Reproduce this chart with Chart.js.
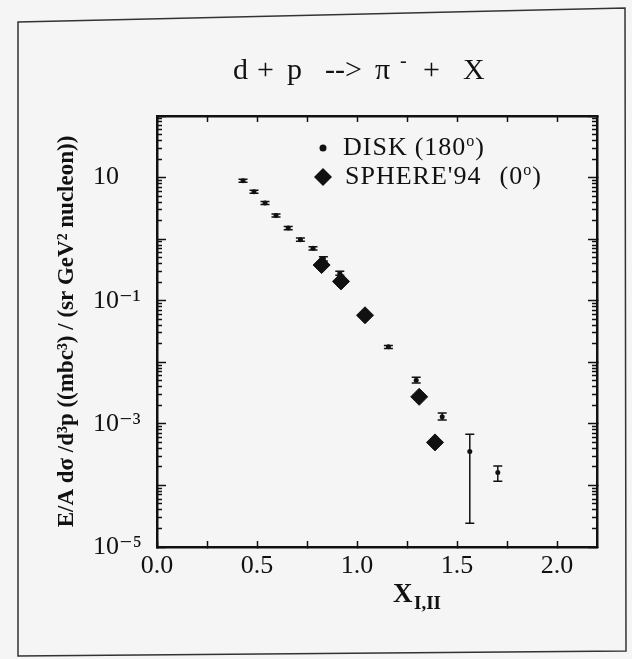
<!DOCTYPE html>
<html>
<head>
<meta charset="utf-8">
<title>d + p --> π- + X</title>
<script src="https://cdn.jsdelivr.net/npm/chart.js@4.4.1/dist/chart.umd.min.js"></script>
<style>
  html, body { margin: 0; padding: 0; background: #f5f5f5; }
  #wrap { width: 632px; height: 659px; }
</style>
</head>
<body>
<div id="wrap"><canvas id="myChart" width="632" height="659"></canvas></div>
<script>
'use strict';

// DISK (180 deg): x, value, error bar low / high
let diskX  = [0.43, 0.485, 0.54, 0.595, 0.656, 0.717, 0.78, 0.832, 0.914, 1.157, 1.296, 1.426, 1.564, 1.704];
let diskY  = [8.9, 5.9, 3.86, 2.42, 1.51, 0.98, 0.71, 0.48, 0.28, 0.0178, 0.0051, 0.00131, 3.55e-4, 1.62e-4];
let diskLo = [8.4, 5.55, 3.65, 2.28, 1.42, 0.92, 0.665, 0.44, 0.26, 0.0168, 0.0046, 0.00115, 2.44e-5, 1.17e-4];
let diskHi = [9.4, 6.25, 4.08, 2.56, 1.6, 1.04, 0.755, 0.52, 0.30, 0.0188, 0.0057, 0.00150, 6.8e-4, 2.07e-4];

// SPHERE'94 (0 deg)
let sphereX = [0.823, 0.92, 1.04, 1.311, 1.39];
let sphereY = [0.38, 0.206, 0.058, 0.00275, 5.0e-4];

// axes
let xTicks  = [0, 0.25, 0.5, 0.75, 1.0, 1.25, 1.5, 1.75, 2.0];
let xLabels = ['0.0', '', '0.5', '', '1.0', '', '1.5', '', '2.0'];
let decadeTicks = [1e-5, 1e-4, 1e-3, 1e-2, 1e-1, 1, 10, 100];
let yLabelVals = [10, 0.1, 0.001, 0.00001];
let yLabels = ['10', '10⁻¹', '10⁻³', '10⁻⁵'];

const serif = "'Liberation Serif', 'Times New Roman', 'DejaVu Serif', serif";
const ink = '#111';

let minorTicks = [];
for (let i = 0; i < decadeTicks.length - 1; i++) {
  for (let m = 2; m <= 9; m++) {
    minorTicks.push(m * decadeTicks[i]);
  }
}

function yLabel(value) {
  for (let i = 0; i < yLabelVals.length; i++) {
    if (Math.abs(Math.log10(yLabelVals[i]) - Math.log10(value)) < 1e-6) {
      return yLabels[i];
    }
  }
  return '';
}

function logAxis(position, weight, width, tickVals, tickLen, showBorder) {
  return {
    type: 'logarithmic',
    position: position,
    weight: weight,
    min: 1e-5,
    max: 100,
    grid: { drawOnChartArea: false, tickLength: -tickLen, tickColor: ink, tickWidth: 1.5 },
    border: { display: showBorder, color: ink, width: 2.5 },
    ticks: { display: false, autoSkip: false },
    afterBuildTicks: function (scale) { scale.ticks = tickVals.map(v => ({ value: v })); },
    afterFit: function (scale) { scale.width = width; }
  };
}

// page background and the scanned page frame
const pageFrame = {
  id: 'pageFrame',
  beforeDraw(chart) {
    const ctx = chart.ctx;
    ctx.save();
    ctx.fillStyle = '#f5f5f5';
    ctx.fillRect(0, 0, chart.width, chart.height);
    ctx.strokeStyle = '#333';
    ctx.lineWidth = 1.5;
    ctx.beginPath();
    ctx.moveTo(18, 22);
    ctx.lineTo(625, 8);
    ctx.lineTo(626, 651);
    ctx.lineTo(18, 656);
    ctx.closePath();
    ctx.stroke();
    ctx.restore();
  }
};

const errorBars = {
  id: 'errorBars',
  afterDatasetsDraw(chart) {
    const ctx = chart.ctx;
    const xs = chart.scales.x;
    const ys = chart.scales.y;
    ctx.save();
    ctx.strokeStyle = ink;
    ctx.lineWidth = 1.5;
    for (let i = 0; i < diskX.length; i++) {
      let px = xs.getPixelForValue(diskX[i]);
      let top = ys.getPixelForValue(diskHi[i]);
      let bot = ys.getPixelForValue(diskLo[i]);
      ctx.beginPath();
      ctx.moveTo(px, top); ctx.lineTo(px, bot);
      ctx.moveTo(px - 4.5, top); ctx.lineTo(px + 4.5, top);
      ctx.moveTo(px - 4.5, bot); ctx.lineTo(px + 4.5, bot);
      ctx.stroke();
    }
    ctx.restore();
  }
};

// title, legend and x axis title (need super/subscripts)
const texts = {
  id: 'texts',
  afterDraw(chart) {
    const ctx = chart.ctx;
    ctx.save();
    ctx.fillStyle = ink;
    ctx.textBaseline = 'alphabetic';
    ctx.textAlign = 'left';

    // title
    ctx.font = '30px ' + serif;
    [['d', 233], ['+', 257], ['p', 287], ['-->', 325], ['π', 375], ['+', 423], ['X', 463]].forEach(t => {
      ctx.fillText(t[0], t[1], 79);
    });
    ctx.font = '20px ' + serif;
    ctx.fillText('-', 400, 67);

    // legend
    let ds = chart.data.datasets;
    ctx.beginPath();
    ctx.arc(323, 148, 3.5, 0, Math.PI * 2);
    ctx.fill();
    ctx.beginPath();
    ctx.moveTo(323, 168); ctx.lineTo(332, 177); ctx.lineTo(323, 186); ctx.lineTo(314, 177);
    ctx.closePath();
    ctx.fill();
    ctx.letterSpacing = '1px';
    let rows = [[ds[0].label, 343, 155, '180'], [ds[1].label, 345, 184, '0']];
    rows.forEach(r => {
      ctx.font = '26px ' + serif;
      let name = r[0].split(' (')[0];
      let x = r[1];
      ctx.fillText(name, x, r[2]);
      x += ctx.measureText(name).width + (r[3] === '0' ? 18 : 7);
      ctx.fillText('(' + r[3], x, r[2]);
      x += ctx.measureText('(' + r[3]).width;
      ctx.font = '16px ' + serif;
      ctx.fillText('o', x, r[2] - 9);
      x += ctx.measureText('o').width;
      ctx.font = '26px ' + serif;
      ctx.fillText(')', x, r[2]);
    });
    ctx.letterSpacing = '0px';

    // x axis title
    ctx.font = 'bold 27px ' + serif;
    ctx.fillText('X', 393, 602);
    ctx.font = 'bold 19px ' + serif;
    ctx.fillText('I,II', 414, 609);
    ctx.restore();
  }
};

const ctx = document.getElementById('myChart');

let config = {
  type: 'scatter',
  data: {
    datasets: [
      {
        label: 'DISK (180o)',
        data: diskX.map((x, i) => ({ x: x, y: diskY[i] })),
        xAxisID: 'x',
        yAxisID: 'y',
        pointStyle: 'circle',
        pointRadius: 2.5,
        backgroundColor: ink,
        borderColor: ink,
        borderWidth: 0
      },
      {
        label: "SPHERE'94 (0o)",
        data: sphereX.map((x, i) => ({ x: x, y: sphereY[i] })),
        xAxisID: 'x',
        yAxisID: 'y',
        pointStyle: 'rectRot',
        pointRadius: 8.5,
        backgroundColor: ink,
        borderColor: ink,
        borderWidth: 1
      }
    ]
  },
  options: {
    responsive: false,
    animation: false,
    layout: { padding: { top: 116, left: 0, right: 0, bottom: 0 } },
    plugins: {
      legend: { display: false },
      tooltip: { enabled: false }
    },
    scales: {
      x: {
        type: 'linear',
        position: 'bottom',
        min: 0,
        max: 2.2,
        grid: { drawOnChartArea: false, tickLength: -6, tickColor: ink, tickWidth: 1.5 },
        border: { color: ink, width: 2.5 },
        ticks: {
          autoSkip: false,
          maxRotation: 0,
          padding: 10,
          color: ink,
          font: { family: serif, size: 26 },
          callback: function (value) {
            let k = xTicks.indexOf(value);
            return k >= 0 ? xLabels[k] : '';
          }
        },
        afterBuildTicks: function (scale) { scale.ticks = xTicks.map(v => ({ value: v })); },
        afterFit: function (scale) { scale.height = 112; }
      },
      xTop: {
        type: 'linear',
        position: 'top',
        min: 0,
        max: 2.2,
        grid: { drawOnChartArea: false, tickLength: -6, tickColor: ink, tickWidth: 1.5 },
        border: { color: ink, width: 2.5 },
        ticks: { display: false, autoSkip: false },
        afterBuildTicks: function (scale) { scale.ticks = xTicks.map(v => ({ value: v })); },
        afterFit: function (scale) { scale.height = 0; }
      },
      y: Object.assign(logAxis('left', 2, 64, decadeTicks, 9, true), {
        ticks: {
          autoSkip: false,
          crossAlign: 'far',
          padding: 20,
          color: ink,
          font: { family: serif, size: 26 },
          callback: yLabel
        }
      }),
      yTitle: {
        type: 'linear',
        position: 'left',
        weight: 3,
        min: 0,
        max: 1,
        grid: { display: false },
        border: { display: false },
        ticks: { display: false },
        title: {
          display: true,
          text: 'E/A dσ /d³p ((mbc³) / (sr GeV² nucleon))',
          color: ink,
          font: { family: serif, size: 23, weight: 'bold' },
          padding: { top: 53, bottom: 0 }
        },
        afterFit: function (scale) { scale.width = 93; }
      },
      yMinor: logAxis('left', 1, 0, minorTicks, 5, false),
      yRMinor: logAxis('right', 0, 0, minorTicks, 5, false),
      yR: logAxis('right', 1, 35, decadeTicks, 9, true)
    }
  },
  plugins: [pageFrame, errorBars, texts]
};

new Chart(ctx, config);
</script>
</body>
</html>
